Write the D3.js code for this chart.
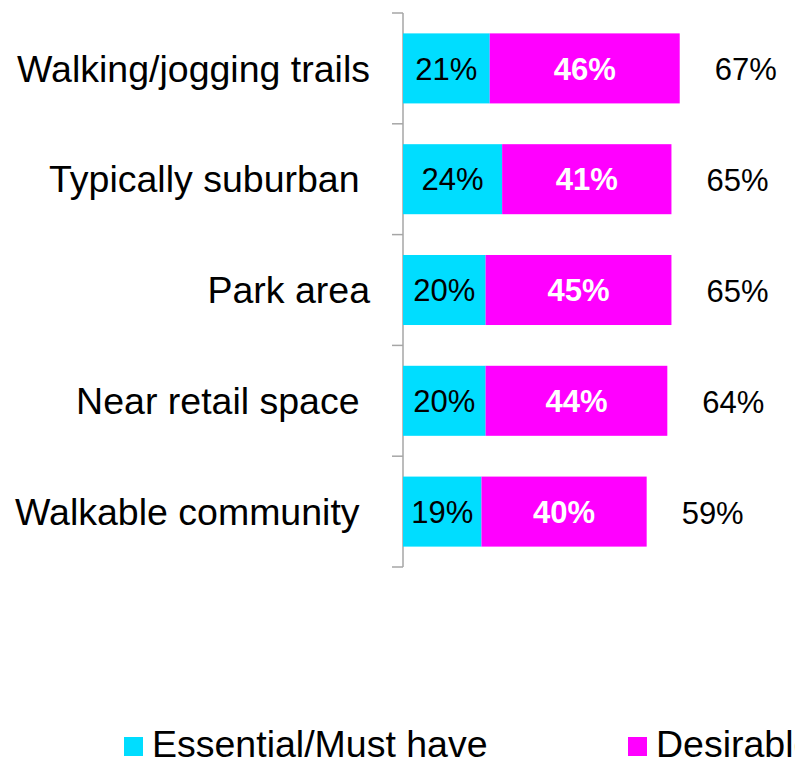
<!DOCTYPE html>
<html>
<head>
<meta charset="utf-8">
<script src="https://cdn.jsdelivr.net/npm/d3@7/dist/d3.min.js"></script>
<style>
  html, body { margin: 0; padding: 0; background: #fff; }
  svg { display: block; font-family: "Liberation Sans", Arial, sans-serif; }
</style>
</head>
<body>
<svg id="chart" width="795" height="762"></svg>
<script>
// ---- Data ----
const categories = ["Walking/jogging trails", "Typically suburban ", "Park area", "Near retail space ", "Walkable community "];
const essential = [21, 24, 20, 20, 19];
const desirable = [46, 41, 45, 44, 40];
const totals = [67, 65, 65, 64, 59];
const seriesNames = ["Essential/Must have", "Desirable"];
const seriesColors = ["#00DDFF", "#FF00FF"];

// ---- Layout ----
const svg = d3.select("#chart");
const x = d3.scaleLinear().domain([0, 100]).range([403, 816]);
const y = d3.scaleBand().domain(categories).range([13, 567]).paddingInner(0.368).paddingOuter(0.184);
const step = y.step();

const rows = categories.map((c, i) => ({ cat: c, e: essential[i], d: desirable[i], t: totals[i] }));

// Axis line and ticks at category boundaries
const axisColor = "#a6a6a6";
const gAxis = svg.append("g");
gAxis.append("line")
  .attr("x1", x(0)).attr("x2", x(0))
  .attr("y1", y.range()[0]).attr("y2", y.range()[1])
  .attr("stroke", axisColor).attr("stroke-width", 1.5);
const bounds = categories.map(c => y(c) - step * y.paddingInner() / 2 ).map((v, i) => i === 0 ? y.range()[0] : v);
bounds.push(y.range()[1]);
gAxis.selectAll("line.tick").data(bounds).join("line")
  .attr("class", "tick")
  .attr("x1", x(0) - 11).attr("x2", x(0))
  .attr("y1", d => d).attr("y2", d => d)
  .attr("stroke", axisColor).attr("stroke-width", 1.5);

// Category labels
svg.append("g").selectAll("text").data(rows).join("text")
  .attr("x", 370)
  .attr("y", d => y(d.cat) + y.bandwidth() / 2)
  .attr("dy", "0.35em")
  .attr("text-anchor", "end")
  .style("white-space", "pre")
  .attr("xml:space", "preserve")
  .attr("font-size", 37.5)
  .attr("fill", "#000")
  .text(d => d.cat);

// Bars
const gBars = svg.append("g");
gBars.selectAll("rect.e").data(rows).join("rect")
  .attr("class", "e")
  .attr("x", x(0))
  .attr("y", d => y(d.cat))
  .attr("width", d => x(d.e) - x(0))
  .attr("height", y.bandwidth())
  .attr("fill", seriesColors[0]);
gBars.selectAll("rect.d").data(rows).join("rect")
  .attr("class", "d")
  .attr("x", d => x(d.e))
  .attr("y", d => y(d.cat))
  .attr("width", d => x(d.e + d.d) - x(d.e))
  .attr("height", y.bandwidth())
  .attr("fill", seriesColors[1]);

// Segment labels
const gLab = svg.append("g").attr("font-size", 31);
gLab.selectAll("text.e").data(rows).join("text")
  .attr("class", "e")
  .attr("x", d => (x(0) + x(d.e)) / 2)
  .attr("y", d => y(d.cat) + y.bandwidth() / 2)
  .attr("dy", "0.36em")
  .attr("text-anchor", "middle")
  .attr("fill", "#000")
  .text(d => d.e + "%");
gLab.selectAll("text.d").data(rows).join("text")
  .attr("class", "d")
  .attr("x", d => (x(d.e) + x(d.e + d.d)) / 2)
  .attr("y", d => y(d.cat) + y.bandwidth() / 2)
  .attr("dy", "0.36em")
  .attr("text-anchor", "middle")
  .attr("font-weight", "bold")
  .attr("fill", "#fff")
  .text(d => d.d + "%");

// Total labels
gLab.selectAll("text.t").data(rows).join("text")
  .attr("class", "t")
  .attr("x", d => x(d.t) + 66)
  .attr("y", d => y(d.cat) + y.bandwidth() / 2 + 12)
  .attr("text-anchor", "middle")
  .attr("fill", "#000")
  .text(d => d.t + "%");

// Legend
const legendX = [124, 628];
const gLeg = svg.append("g");
seriesNames.forEach((name, i) => {
  gLeg.append("rect")
    .attr("x", legendX[i]).attr("y", 737)
    .attr("width", 19).attr("height", 19)
    .attr("fill", seriesColors[i]);
  gLeg.append("text")
    .attr("x", legendX[i] + 28).attr("y", 757)
    .attr("font-size", 37.5)
    .attr("fill", "#000")
    .text(name);
});
</script>
</body>
</html>
